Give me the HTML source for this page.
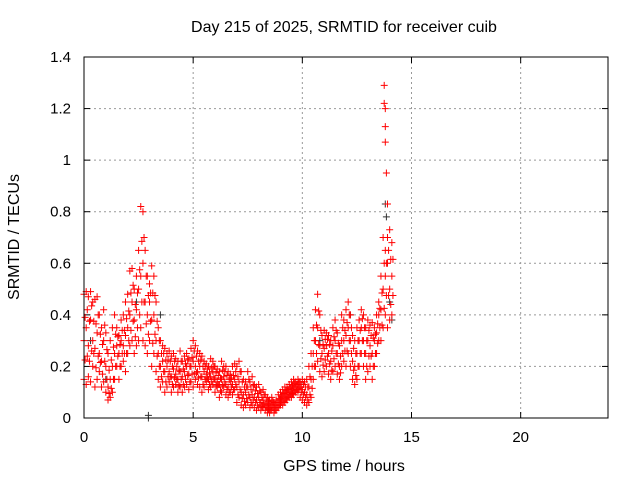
<!DOCTYPE html>
<html><head><meta charset="utf-8">
<style>
body{margin:0;background:#fff;}
svg{display:block;font-family:"Liberation Sans",sans-serif;}
</style></head>
<body>
<svg id="chart" width="640" height="480" viewBox="0 0 640 480" xmlns="http://www.w3.org/2000/svg">
<text x="344" y="32" font-size="16" text-anchor="middle">Day 215 of 2025, SRMTID for receiver cuib</text>
<text x="19" y="237" font-size="16" text-anchor="middle" transform="rotate(-90 19 237)">SRMTID / TECUs</text>
<text x="344" y="471" font-size="16" text-anchor="middle">GPS time / hours</text>
<g id="grid"></g>
<g id="axes"></g>
<g id="black-series"></g>
<g id="red-series"></g>
<rect x="84" y="57" width="524" height="361" fill="none" stroke="#000" stroke-width="1"/>
</svg>
<script>
const xTicks=[0,5,10,15,20];
const yTicks=[0,0.2,0.4,0.6,0.8,1,1.2,1.4];
const yTickLabels=["0","0.2","0.4","0.6","0.8","1","1.2","1.4"];
const redTimes=[];
for(let i=0;i<=141;i++) redTimes.push(+(i*0.1).toFixed(1));
const redLow=[.15,.13,.16,.14,.2,.12,.15,.18,.12,.14,.1,.07,.08,.1,.15,.2,.15,.2,.22,.18,.25,.28,.3,.25,.28,.3,.35,.3,.28,.25,.3,.2,.25,.18,.15,.12,.14,.1,.12,.14,.1,.12,.13,.1,.12,.1,.12,.13,.11,.14,.12,.15,.13,.12,.1,.12,.14,.11,.12,.13,.1,.12,.08,.1,.12,.09,.08,.1,.09,.11,.06,.08,.05,.04,.05,.06,.04,.05,.04,.03,.04,.03,.04,.03,.02,.02,.03,.02,.03,.04,.05,.05,.06,.07,.08,.08,.09,.1,.1,.08,.07,.06,.05,.06,.08,.15,.2,.22,.18,.16,.18,.2,.17,.15,.18,.2,.17,.15,.2,.22,.2,.25,.2,.15,.13,.15,.2,.25,.2,.15,.18,.2,.15,.2,.25,.3,.3,.35,.4,.35,.38,.4];
const redMid=[.3,.35,.28,.38,.3,.27,.33,.25,.22,.3,.2,.12,.15,.2,.25,.28,.25,.3,.28,.32,.35,.4,.45,.38,.42,.5,.55,.6,.45,.4,.45,.38,.4,.3,.25,.2,.22,.18,.2,.18,.16,.19,.17,.15,.18,.16,.18,.2,.17,.2,.22,.2,.18,.2,.16,.18,.17,.15,.16,.18,.15,.14,.13,.15,.16,.13,.12,.14,.13,.15,.12,.14,.1,.09,.1,.12,.08,.09,.08,.07,.08,.06,.07,.05,.05,.04,.05,.04,.05,.06,.07,.08,.09,.1,.1,.11,.12,.12,.13,.12,.11,.1,.09,.12,.15,.25,.3,.35,.28,.25,.27,.28,.25,.22,.28,.3,.25,.2,.3,.3,.32,.35,.3,.22,.2,.25,.3,.35,.3,.25,.3,.28,.25,.3,.33,.4,.42,.5,.55,.6,.5,.55];
const redHigh=[.48,.49,.47,.49,.45,.46,.47,.4,.35,.42,.33,.25,.3,.35,.4,.35,.32,.38,.4,.45,.48,.57,.58,.5,.55,.65,.82,.8,.65,.55,.52,.59,.55,.45,.35,.3,.28,.27,.25,.26,.24,.25,.23,.22,.26,.22,.24,.25,.23,.27,.3,.28,.26,.25,.24,.22,.21,.2,.23,.22,.2,.19,.18,.22,.2,.2,.18,.17,.2,.21,.2,.22,.18,.15,.14,.18,.14,.16,.13,.12,.13,.1,.11,.09,.08,.07,.08,.06,.07,.09,.1,.11,.12,.12,.13,.14,.15,.14,.15,.14,.15,.14,.15,.2,.25,.35,.42,.48,.4,.32,.34,.33,.32,.3,.35,.38,.33,.28,.4,.38,.42,.45,.4,.32,.3,.35,.38,.42,.4,.35,.38,.36,.37,.35,.4,.45,.55,.7,.65,.7,.73,.68];
const spikeTimes=[13.75,13.75,13.8,13.8,13.8,13.85,13.9];
const spikeValues=[1.29,1.22,1.2,1.13,1.07,.95,.83];
const blackTimes=[0.3,1.0,2.4,2.95,2.95,3.5,10.8,12.2,13.8,13.85,14.0,14.1];
const blackValues=[0.3,0.15,0.45,0,0.01,0.4,0.3,0.4,0.83,0.78,0.45,0.38];

const X0=84,X1=608,Y0=418,Y1=57;
const xs=t=>X0+(X1-X0)*t/24;
const ys=v=>Y0-(Y0-Y1)*v/1.4;
const NS="http://www.w3.org/2000/svg";
function mk(tag,attrs,parent){const e=document.createElementNS(NS,tag);for(const k in attrs)e.setAttribute(k,attrs[k]);parent.appendChild(e);return e;}
const grid=document.getElementById('grid'),axes=document.getElementById('axes');
xTicks.forEach(t=>{
  const x=xs(t);
  if(t>0){const g=mk('line',{x1:x,x2:x,y1:Y1,y2:Y0,stroke:'#999','stroke-dasharray':'2,3'},grid);
  
  }
  mk('line',{x1:x,x2:x,y1:Y0,y2:Y0-6,stroke:'#000'},axes);
  mk('line',{x1:x,x2:x,y1:Y1,y2:Y1+6,stroke:'#000'},axes);
  const tx=mk('text',{x:x,y:Y0+24,'font-size':'15','text-anchor':'middle'},axes);
  tx.textContent=t;
  
  
});
yTicks.forEach((v,i)=>{
  const y=ys(v);
  if(v>0&&v<1.4){const g=mk('line',{x1:X0,x2:X1,y1:y,y2:y,stroke:'#999','stroke-dasharray':'2,3'},grid);
  
  }
  mk('line',{x1:X0,x2:X0+6,y1:y,y2:y,stroke:'#000'},axes);
  mk('line',{x1:X1,x2:X1-6,y1:y,y2:y,stroke:'#000'},axes);
  const tx=mk('text',{x:X0-13,y:y+5,'font-size':'15','text-anchor':'end'},axes);
  tx.textContent=yTickLabels[i];
  
  
});
function plus(g,t,v,c,name){
  const x=xs(t),y=ys(v);
  const p=mk('path',{d:`M${x-3.5},${y}H${x+3.5}M${x},${y-3.5}V${y+3.5}`,stroke:c,'stroke-width':'1',fill:'none'},g);
  
  
}
const bg=document.getElementById('black-series'),rg=document.getElementById('red-series');
blackTimes.forEach((t,i)=>plus(bg,t,blackValues[i],'#333','black-point'));
redTimes.forEach((t,i)=>{
  const lo=redLow[i],mi=redMid[i],hi=redHigh[i];
  plus(rg,t,lo,'#f00','red-point');
  plus(rg,t+0.05,(lo+mi)/2,'#f00','red-point');
  plus(rg,t,mi,'#f00','red-point');
  plus(rg,t+0.05,(mi+hi)/2,'#f00','red-point');
  plus(rg,t,hi,'#f00','red-point');
});
spikeTimes.forEach((t,i)=>plus(rg,t,spikeValues[i],'#f00','red-spike-point'));
</script>
</body></html>
